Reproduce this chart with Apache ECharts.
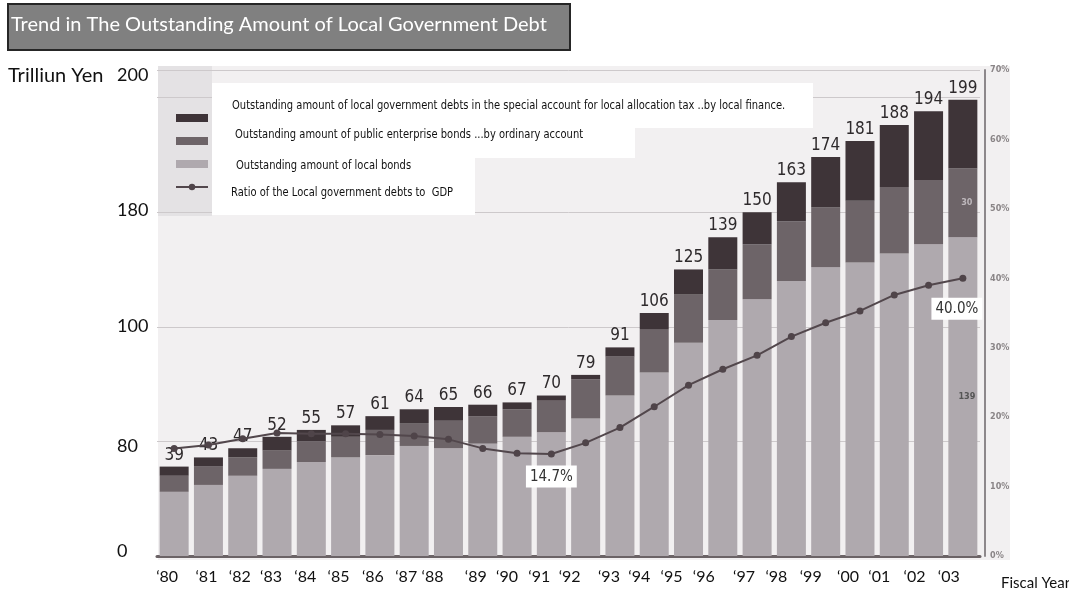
<!DOCTYPE html>
<html>
<head>
<meta charset="utf-8">
<script src="https://cdn.jsdelivr.net/npm/echarts@6/dist/echarts.min.js"></script>
<style>
html,body{margin:0;padding:0;background:#fff;}
#chart{width:1069px;height:593px;}
</style>
</head>
<body>
<div id="chart"></div>
<script>
// ---------- data ----------
const years = ['‘80','‘81','‘82','‘83','‘84','‘85','‘86','‘87','‘88','‘89','‘90','‘91','‘92','‘93','‘94','‘95','‘96','‘97','‘98','‘99','‘00','‘01','‘02','‘03'];
const localBonds       = [28,31,35,38,41,43,44,48,47,49,52,54,60,70,80,93,103,112,120,126,128,132,136,139];
const publicEnterprise = [7,8,8,8,9,9,11,10,12,12,12,14,17,17,19,21,22,24,26,26,27,29,28,30];
const specialAccount   = [4,4,4,6,5,5,6,6,6,5,3,2,2,4,7,11,14,14,17,22,26,27,30,30];
const totals           = [39,43,47,52,55,57,61,64,65,66,67,70,79,91,106,125,139,150,163,174,181,188,194,199];
const gdpRatio         = [15.5,16.0,16.9,17.7,17.6,17.6,17.5,17.3,16.8,15.5,14.8,14.7,16.3,18.5,21.5,24.6,26.9,28.9,31.6,33.6,35.3,37.6,39.0,40.0];
const ratioCallouts    = ['‘91','‘03'];
const yTickValues      = [0,50,100,150,200];
const yTickLabels      = ['0','80','100','180','200'];
const seriesNames = [
  'Outstanding amount of local government debts in the special account for local allocation tax ..by local finance.',
  'Outstanding amount of public enterprise bonds ...by ordinary account',
  'Outstanding amount of local bonds',
  'Ratio of the Local government debts to  GDP'
];
const titleText = 'Trend in The Outstanding Amount of Local Government Debt';
const yUnit = 'Trilliun Yen';
const xUnit = 'Fiscal Year';

// ---------- layout helpers (positions only) ----------
const xLabelNudge = [-7,-2,-3,-6,-6,-7,-7,-8,-16,-7,-10,-12,-16,-11,-15,-17,-19,-13,-15,-15,-12,-15,-14,-14];
const yLabelShift = [-5,5,-1,-2,-22]; // px, negative = up
const CAL = 'Lato, "Open Sans", sans-serif';
const NARROW = '"Liberation Sans Narrow", "DejaVu Sans Condensed", sans-serif';

const xRich = {};
xLabelNudge.forEach((d,i)=>{
  xRich['n'+i] = {fontFamily:CAL,fontSize:16,color:'#111',padding:[0, d<0?-2*d:0, 0, d>0?2*d:0]};
});
const yRich = {};
yLabelShift.forEach((d,i)=>{
  yRich['t'+i] = {fontFamily:CAL,fontSize:18,color:'#111',padding:[d>0?2*d:0,0,d<0?-2*d:0,0]};
});

const last = years.length-1;
function segLabel(color){
  return {show:true, position:'inside', offset:[4,0], fontFamily:NARROW, fontSize:9, fontWeight:'bold', color:color,
    formatter:p=> p.dataIndex===last ? String(p.value) : ''};
}

const chart = echarts.init(document.getElementById('chart'), null, {renderer:'canvas'});
const legendTextY = [106,135,166,193];
const legendTextX = [232,235,236,231];

const option = {
  animation:false,
  backgroundColor:'#ffffff',
  grid:{left:157,right:89,top:70,bottom:37},
  legend:{
    data:[
      {name:seriesNames[0],icon:'rect'},
      {name:seriesNames[1],icon:'rect'},
      {name:seriesNames[2],icon:'rect'},
      {name:seriesNames[3]}
    ],
    orient:'vertical', left:170, top:109, itemWidth:32, itemHeight:8, itemGap:15,
    formatter:()=>'', selectedMode:false, textStyle:{fontSize:1}
  },
  xAxis:{
    type:'category', data:years,
    axisLine:{lineStyle:{color:'#6b6366',width:3}},
    axisTick:{show:false},
    axisLabel:{interval:0, margin:13, formatter:(v,i)=>'{n'+i+'|'+v+'}', rich:xRich}
  },
  yAxis:[
    {type:'value', min:0, max:212, interval:50,
     axisLine:{show:false}, axisTick:{show:false},
     splitLine:{lineStyle:{color:'#cdc9cb',width:1}},
     axisLabel:{align:'left', margin:40, showMaxLabel:true,
       formatter:v=>{const k=yTickValues.indexOf(v); return k<0?'':'{t'+k+'|'+yTickLabels[k]+'}';}, rich:yRich}
    },
    {type:'value', min:0, max:70, interval:10, position:'right', offset:5,
     axisLine:{show:true, lineStyle:{color:'#8d888b', width:2}},
     axisTick:{show:false}, splitLine:{show:false},
     axisLabel:{formatter:'{value}%', fontFamily:NARROW, fontSize:9, fontWeight:'bold', color:'#8a8587', margin:5}
    }
  ],
  series:[
    {name:seriesNames[2], type:'bar', stack:'debt', barWidth:29, data:localBonds,
     itemStyle:{color:'#afa9ae'}, label:segLabel('#555')},
    {name:seriesNames[1], type:'bar', stack:'debt', barWidth:29, data:publicEnterprise,
     itemStyle:{color:'#6d6468'}, label:segLabel('#bdb7bb')},
    {name:seriesNames[0], type:'bar', stack:'debt', barWidth:29, data:specialAccount,
     itemStyle:{color:'#3e3438'},
     label:{show:true, position:'top', distance:3, fontFamily:NARROW, fontSize:17, color:'#2e2a2c',
       formatter:p=>String(totals[p.dataIndex])}},
    {name:seriesNames[3], type:'line', yAxisIndex:1,
     data:gdpRatio.map((v,i)=>({
       value:v,
       label: ratioCallouts.indexOf(years[i])>=0 ? {
         show:true, position:'bottom', distance:8, offset: i===last?[-6,8]:[0,0],
         formatter:p=>p.value.toFixed(1)+'%', backgroundColor:'#ffffff', padding:[4,4,3,4],
         fontFamily:NARROW, fontSize:15, color:'#333'} : {show:false}
     })),
     symbol:'circle', symbolSize:7, z:5,
     itemStyle:{color:'#4f4449'}, lineStyle:{color:'#52474c', width:2}
    }
  ],
  graphic:[
    // scanned area background
    {type:'rect', z:-10, shape:{x:158,y:66,width:852,height:494}, style:{fill:'#f2f0f1'}},
    {type:'rect', z:-9, shape:{x:158,y:66,width:54,height:150}, style:{fill:'#e4e2e4'}},
    // legend text boxes
    {type:'rect', z:50, shape:{x:212,y:83,width:601,height:45}, style:{fill:'#ffffff'}},
    {type:'rect', z:50, shape:{x:212,y:127,width:423,height:31}, style:{fill:'#ffffff'}},
    {type:'rect', z:50, shape:{x:212,y:157,width:263,height:58}, style:{fill:'#ffffff'}},
    ...seriesNames.map((n,i)=>({type:'text', z:51, x:legendTextX[i], y:legendTextY[i], scaleX:0.85,
      style:{text:n, font:'13px '+NARROW, fill:'#111', textVerticalAlign:'middle'}})),
    // title box
    {type:'rect', z:50, shape:{x:8,y:4,width:562,height:46}, style:{fill:'#808080', stroke:'#262626', lineWidth:2}},
    {type:'text', z:51, x:11, y:25, style:{text:titleText, font:'20px '+CAL, fill:'#ffffff', textVerticalAlign:'middle'}},
    // axis unit texts
    {type:'text', z:51, x:8, y:76, style:{text:yUnit, font:'20px '+CAL, fill:'#111', textVerticalAlign:'middle'}},
    {type:'text', z:51, x:1001, y:583, style:{text:xUnit, font:'15px '+CAL, fill:'#111', textVerticalAlign:'middle'}}
  ]
};
chart.setOption(option);
</script>
</body>
</html>
